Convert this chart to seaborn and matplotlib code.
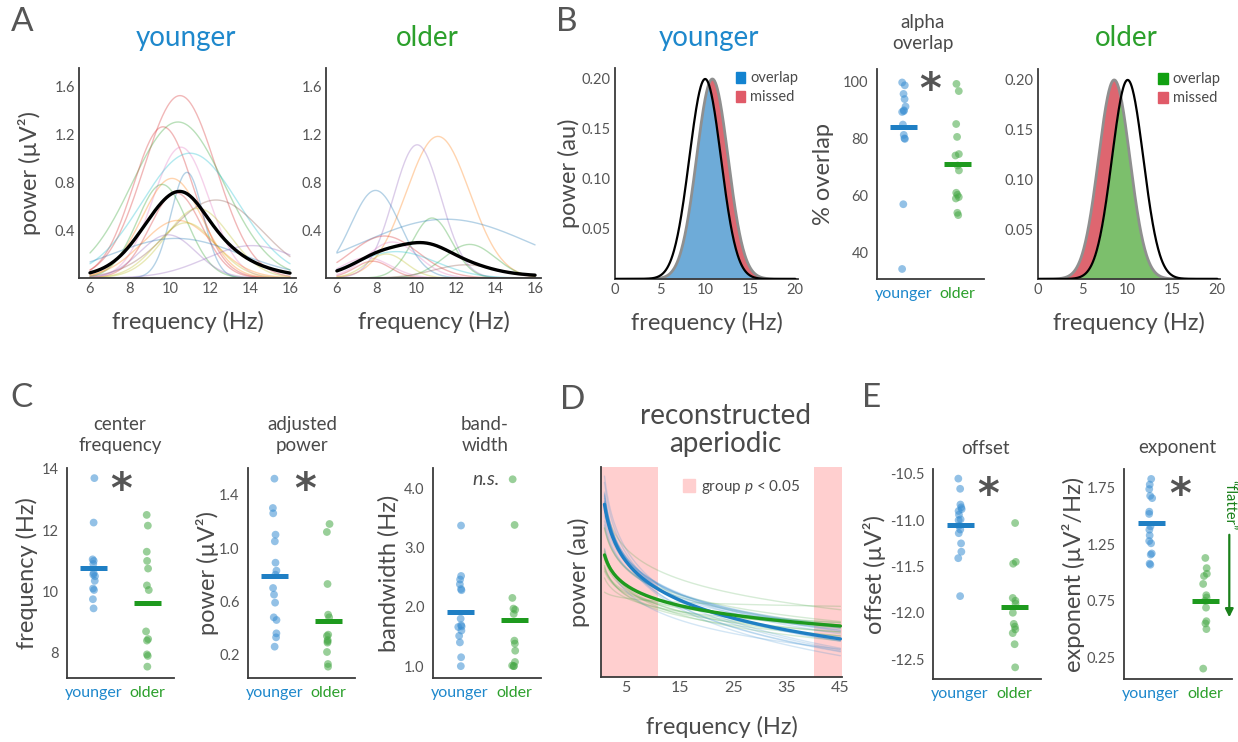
import numpy as np
import pandas as pd
import matplotlib
matplotlib.use("Agg")
import matplotlib.pyplot as plt
import seaborn as sns
from matplotlib.patches import Patch
from matplotlib.ticker import FixedLocator, MultipleLocator

# ---------------------------------------------------------------- data
groups = ["younger", "older"]

# Panel A: alpha peak fits per subject (center Hz, power uV^2, gaussian std Hz)
a_young_cf = [10.5, 10.4, 9.65, 10.55, 11.0, 10.85, 10.1, 9.6, 10.3, 12.3, 11.4, 10.4, 10.8, 9.9, 10.3, 14.1]
a_young_pw = [1.52, 1.30, 1.26, 1.09, 1.04, 0.88, 0.83, 0.78, 0.71, 0.65, 0.58, 0.48, 0.46, 0.36, 0.33, 0.27]
a_young_sd = [1.8, 2.3, 1.5, 1.4, 2.4, 0.8, 1.5, 1.25, 1.3, 2.3, 1.6, 1.8, 1.5, 1.4, 3.2, 2.3]
a_old_cf = [11.1, 10.05, 7.95, 10.8, 11.5, 8.4, 12.7, 7.8, 8.8, 9.0, 12.5, 7.5, 8.5]
a_old_pw = [1.18, 1.11, 0.73, 0.50, 0.49, 0.35, 0.28, 0.14, 0.30, 0.22, 0.11, 0.17, 0.20]
a_old_sd = [1.6, 1.2, 1.25, 1.0, 4.2, 1.7, 1.3, 0.9, 1.3, 2.0, 1.6, 1.2, 1.0]
a_freq_range = (6, 16)

# Panel B: canonical vs group-average alpha distributions
b_canon_cf = 10.0
b_young_cf = 10.8
b_old_cf = 8.5
b_sd = 1.75
b_peak = 0.2
b_freq_range = (0, 20)
overlap_young = [99.5, 98.5, 95.5, 93.7, 91.1, 89.8, 89.5, 89.2, 84.8, 81.2, 80.0, 79.8, 57.0, 34.4]
overlap_old = [99.0, 96.5, 85.0, 80.5, 74.5, 74.0, 70.5, 68.8, 61.0, 60.3, 59.5, 59.0, 54.0, 53.2]
overlap_means = [83.9, 71.0]

# Panel C
cf_young = [13.7, 12.25, 11.05, 11.0, 10.9, 10.6, 10.55, 10.5, 10.35, 10.1, 10.05, 9.75, 9.45]
cf_old = [12.5, 12.15, 11.3, 11.0, 10.75, 10.2, 10.05, 8.7, 8.45, 8.4, 7.95, 7.9, 7.55]
cf_means = [10.76, 9.64]
pw_young = [1.52, 1.30, 1.26, 1.10, 1.05, 0.89, 0.83, 0.80, 0.70, 0.65, 0.59, 0.48, 0.46, 0.36, 0.33, 0.26]
pw_old = [1.18, 1.12, 0.73, 0.50, 0.48, 0.35, 0.34, 0.31, 0.30, 0.29, 0.22, 0.13, 0.11]
pw_means = [0.79, 0.455]
bw_young = [3.37, 2.52, 2.46, 2.38, 2.30, 2.28, 1.80, 1.69, 1.67, 1.66, 1.60, 1.51, 1.40, 1.15, 1.00]
bw_old = [4.15, 3.38, 2.15, 1.97, 1.95, 1.88, 1.43, 1.38, 1.26, 1.07, 1.01, 1.00, 1.00]
bw_means = [1.92, 1.77]

# Panel E (also used for the reconstructed aperiodic fits of panel D)
off_young = [-10.55, -10.66, -10.83, -10.86, -10.88, -10.90, -10.94, -10.99, -11.00,
             -11.06, -11.10, -11.14, -11.25, -11.34, -11.41, -11.82]
off_old = [-11.03, -11.45, -11.47, -11.84, -11.87, -11.90, -12.00, -12.12, -12.15,
           -12.18, -12.22, -12.34, -12.59]
off_means = [-11.05, -11.94]
exp_young = [1.83, 1.78, 1.74, 1.68, 1.66, 1.54, 1.52, 1.41, 1.38, 1.33, 1.28, 1.26,
             1.17, 1.16, 1.08, 1.07]
exp_old = [1.13, 1.04, 0.99, 0.97, 0.90, 0.80, 0.78, 0.75, 0.69, 0.57, 0.55, 0.50, 0.15]
exp_means = [1.44, 0.745]

# Panel D
d_freq_range = (1, 45)
sig_bands = [(0, 11), (40, 46)]

# ---------------------------------------------------------------- style
sns.set_theme(style="white")
plt.rcParams["font.family"] = ["Lato", "DejaVu Sans"]
plt.rcParams["mathtext.fontset"] = "custom"
plt.rcParams["mathtext.rm"] = "Lato"
plt.rcParams["mathtext.it"] = "Lato:italic"
plt.rcParams["axes.unicode_minus"] = False

TXT = "#4a4a4a"
TICK = "#555555"
SPINE = "#3a3a3a"
BLUE_T = "#1e88cc"
GREEN_T = "#2ca02c"
PT_BLUE = "#3a8fd2"
PT_GREEN = "#46a846"
BAR_BLUE = "#1f7fc4"
BAR_GREEN = "#1e9a1e"
FILL_BLUE = "#6eabd8"
FILL_GREEN = "#7cbf6c"
FILL_RED = "#de6670"
PINK = "#ffcfcf"
ARROW_GREEN = "#1a801a"

# per-subject line colours for panel A
young_line_cols = ["#d62728", "#2ca02c", "#d62728", "#e377c2", "#17becf", "#1f77b4",
                   "#ff7f0e", "#2ca02c", "#d62728", "#8c564b", "#bcbd22", "#ff7f0e",
                   "#bcbd22", "#9467bd", "#1f77b4", "#9467bd"]
old_line_cols = ["#ff7f0e", "#9467bd", "#1f77b4", "#2ca02c", "#1f77b4", "#d62728",
                 "#2ca02c", "#d62728", "#e377c2", "#17becf", "#8c564b", "#e377c2",
                 "#bcbd22"]

W, H = 1238, 742
fig = plt.figure(figsize=(W / 100, H / 100), dpi=100)
fig.patch.set_facecolor("white")


def add_ax(x0, y0, x1, y1):
    return fig.add_axes([x0 / W, 1 - y1 / H, (x1 - x0) / W, (y1 - y0) / H])


def ftext(x, y, s, **kw):
    kw.setdefault("color", TXT)
    fig.text(x / W, 1 - y / H, s, **kw)


def star(x, y):
    ftext(x, y + 23, "*", fontsize=30, ha="center", va="baseline",
          family="DejaVu Sans", fontweight="bold", color="#555555")


def style_axes(ax, direction="in"):
    for s in ["top", "right"]:
        ax.spines[s].set_visible(False)
    for s in ["left", "bottom"]:
        ax.spines[s].set_color(SPINE)
        ax.spines[s].set_linewidth(1.3)
    ax.tick_params(which="both", direction=direction, color=SPINE, width=0.9,
                   labelcolor=TICK, labelsize=10.5, pad=3)
    ax.tick_params(which="major", length=3)
    ax.tick_params(which="minor", length=2.5)
    ax.set_facecolor("white")


def set_ylab(ax, text, xa, size=17):
    ax.set_ylabel(text, fontsize=size, color=TXT, va="center")
    ax.yaxis.set_label_coords(xa, 0.5)


def set_xlab(ax, text, ya, size=17):
    ax.set_xlabel(text, fontsize=size, color=TXT, va="center")
    ax.xaxis.set_label_coords(0.5, ya)


def gauss_df(cfs, pws, sds, lo, hi):
    f = np.linspace(lo, hi, 241)
    rows = []
    for i, (c, p, s) in enumerate(zip(cfs, pws, sds)):
        rows.append(pd.DataFrame({"subject": i, "freq": f,
                                  "power": p * np.exp(-(f - c) ** 2 / (2 * s ** 2))}))
    return pd.concat(rows, ignore_index=True)


# ---------------------------------------------------------------- panel A
def panel_a(ax, cfs, pws, sds, cols):
    df = gauss_df(cfs, pws, sds, *a_freq_range)
    sns.lineplot(data=df, x="freq", y="power", hue="subject", palette=cols,
                 alpha=0.33, lw=1.0, legend=False, ax=ax)
    sns.lineplot(data=df, x="freq", y="power", estimator="mean", errorbar=None,
                 color="black", lw=2.4, ax=ax)
    ax.set_xlim(5.45, 16.3)
    ax.set_ylim(0, 1.75)
    ax.xaxis.set_major_locator(FixedLocator([6, 8, 10, 12, 14, 16]))
    ax.yaxis.set_major_locator(FixedLocator([0.4, 0.8, 1.2, 1.6]))
    ax.yaxis.set_minor_locator(FixedLocator([0.2, 0.6, 1.0, 1.4]))
    ax.set_yticklabels(["0.4", "0.8", "1.2", "1.6"])
    style_axes(ax)
    set_xlab(ax, "frequency (Hz)", -0.21)


axA1 = add_ax(79, 68, 296, 278)
panel_a(axA1, a_young_cf, a_young_pw, a_young_sd, young_line_cols)
set_ylab(axA1, "power (µV²)", -0.23)
axA2 = add_ax(326, 68, 541, 278)
panel_a(axA2, a_old_cf, a_old_pw, a_old_sd, old_line_cols)
axA2.set_ylabel("")

ftext(22, 22, "A", fontsize=24, ha="center", va="center", color="#555555")
ftext(186, 38, "younger", fontsize=20, ha="center", va="center", color=BLUE_T)
ftext(427, 38, "older", fontsize=20, ha="center", va="center", color=GREEN_T)


# ---------------------------------------------------------------- panel B curves
def panel_b(ax, grp_cf, fill_col, leg_col):
    f = np.linspace(*b_freq_range, 401)
    canon = b_peak * np.exp(-(f - b_canon_cf) ** 2 / (2 * b_sd ** 2))
    grp = b_peak * np.exp(-(f - grp_cf) ** 2 / (2 * b_sd ** 2))
    low = np.minimum(grp, canon)
    ax.fill_between(f, 0, low, color=fill_col, lw=0, zorder=1)
    ax.fill_between(f, low, grp, where=grp > canon, color=FILL_RED, lw=0,
                    zorder=1, interpolate=True)
    sns.lineplot(x=f, y=grp, color="#8f8f8f", lw=2.0, ax=ax, zorder=2)
    sns.lineplot(x=f, y=canon, color="black", lw=1.6, ax=ax, zorder=3)
    ax.set_xlim(0, 20.3)
    ax.set_ylim(0, 0.211)
    ax.xaxis.set_major_locator(FixedLocator([0, 5, 10, 15, 20]))
    ax.xaxis.set_minor_locator(FixedLocator([2.5, 7.5, 12.5, 17.5]))
    ax.yaxis.set_major_locator(FixedLocator([0.05, 0.10, 0.15, 0.20]))
    ax.yaxis.set_minor_locator(FixedLocator([0.025, 0.075, 0.125, 0.175]))
    ax.set_yticklabels(["0.05", "0.10", "0.15", "0.20"])
    style_axes(ax)
    set_xlab(ax, "frequency (Hz)", -0.21)
    handles = [Patch(color=leg_col, label="overlap"), Patch(color="#e05a68", label="missed")]
    lg = ax.legend(handles=handles, loc="upper left", bbox_to_anchor=(0.66, 0.985),
                   frameon=False, fontsize=10.5, handlelength=0.65, handleheight=0.8,
                   handletextpad=0.35, labelspacing=0.35, borderaxespad=0, borderpad=0)
    for t in lg.get_texts():
        t.set_color(TXT)


axB1 = add_ax(615, 68, 798, 279)
panel_b(axB1, b_young_cf, FILL_BLUE, "#1383d0")
set_ylab(axB1, "power (au)", -0.25)
axB3 = add_ax(1038, 69, 1220, 279)
panel_b(axB3, b_old_cf, FILL_GREEN, "#11a011")
axB3.set_ylabel("")

ftext(567, 22, "B", fontsize=24, ha="center", va="center", color="#555555")
ftext(709, 38, "younger", fontsize=20, ha="center", va="center", color=BLUE_T)
ftext(1126, 38, "older", fontsize=20, ha="center", va="center", color=GREEN_T)


# ---------------------------------------------------------------- strip panels
np.random.seed(7)


def strip_panel(ax, young, old, means, ylim, major, minor, labels):
    df = pd.DataFrame({"group": ["younger"] * len(young) + ["older"] * len(old),
                       "value": list(young) + list(old)})
    sns.stripplot(data=df, x="group", y="value", hue="group", order=groups,
                  hue_order=groups, palette=[PT_BLUE, PT_GREEN], jitter=0.035,
                  size=5.6, alpha=0.55, linewidth=0, legend=False, ax=ax, zorder=3)
    for i, (m, c) in enumerate(zip(means, [BAR_BLUE, BAR_GREEN])):
        ax.hlines(m, i - 0.25, i + 0.25, color=c, lw=3.6, zorder=5)
    ax.set_xlim(-0.5, 1.5)
    ax.set_ylim(*ylim)
    ax.yaxis.set_major_locator(FixedLocator(major))
    ax.yaxis.set_minor_locator(FixedLocator(minor))
    ax.set_yticklabels(labels)
    ax.set_xlabel("")
    style_axes(ax, direction="out")
    ax.tick_params(axis="x", labelsize=11.5, pad=2.5, length=3)
    for lbl, c in zip(ax.get_xticklabels(), [BLUE_T, GREEN_T]):
        lbl.set_color(c)


axB2 = add_ax(877, 69, 984, 279)
strip_panel(axB2, overlap_young, overlap_old, overlap_means, (30.9, 104.2),
            [40, 60, 80, 100], [50, 70, 90], ["40", "60", "80", "100"])
set_ylab(axB2, "% overlap", -0.50)
ftext(923, 33, "alpha\noverlap", fontsize=13.5, ha="center", va="center", linespacing=1.25)
star(930, 80)

# ---------------------------------------------------------------- panel C
axC1 = add_ax(67, 468, 174, 678)
strip_panel(axC1, cf_young, cf_old, cf_means, (7.18, 14.03),
            [8, 10, 12, 14], [9, 11, 13], ["8", "10", "12", "14"])
set_ylab(axC1, "frequency (Hz)", -0.37)
axC2 = add_ax(248, 468, 355, 678)
strip_panel(axC2, pw_young, pw_old, pw_means, (0.025, 1.6),
            [0.2, 0.6, 1.0, 1.4], [0.4, 0.8, 1.2], ["0.2", "0.6", "1.0", "1.4"])
set_ylab(axC2, "power (µV²)", -0.38)
axC3 = add_ax(433, 468, 541, 678)
strip_panel(axC3, bw_young, bw_old, bw_means, (0.8, 4.34),
            [1, 2, 3, 4], [1.5, 2.5, 3.5], ["1.0", "2.0", "3.0", "4.0"])
set_ylab(axC3, "bandwidth (Hz)", -0.41)

ftext(21, 398, "C", fontsize=24, ha="center", va="center", color="#555555")
ftext(120, 435, "center\nfrequency", fontsize=13.5, ha="center", va="center", linespacing=1.25)
ftext(302, 435, "adjusted\npower", fontsize=13.5, ha="center", va="center", linespacing=1.25)
ftext(485, 435, "band-\nwidth", fontsize=13.5, ha="center", va="center", linespacing=1.25)
star(121, 480)
star(305, 480)
ftext(486, 485, "n.s.", fontsize=14, ha="center", va="baseline", style="italic")

# ---------------------------------------------------------------- panel D
axD = add_ax(601, 467, 842, 677)
fD = np.linspace(*d_freq_range, 177)


def aperiodic_df(offs, exps, grp):
    rows = []
    for i, (b, x) in enumerate(zip(offs, exps)):
        rows.append(pd.DataFrame({"subject": f"{grp}{i}", "group": grp, "freq": fD,
                                  "power": b - x * np.log10(fD)}))
    return pd.concat(rows, ignore_index=True)


dfy = aperiodic_df(off_young, exp_young, "younger")
dfo = aperiodic_df(off_old, exp_old, "older")
for lo, hi in sig_bands:
    axD.axvspan(lo, hi, color=PINK, lw=0, zorder=0)
sns.lineplot(data=dfo, x="freq", y="power", units="subject", estimator=None,
             color=PT_GREEN, alpha=0.22, lw=1.0, ax=axD)
sns.lineplot(data=dfy, x="freq", y="power", units="subject", estimator=None,
             color=PT_BLUE, alpha=0.22, lw=1.0, ax=axD)
sns.lineplot(data=dfy, x="freq", y="power", estimator="mean", errorbar=None,
             color=BAR_BLUE, lw=2.4, ax=axD)
sns.lineplot(data=dfo, x="freq", y="power", estimator="mean", errorbar=None,
             color=BAR_GREEN, lw=2.4, ax=axD)
axD.set_xlim(0.35, 45.3)
axD.set_ylim(-14.08, -10.39)
axD.xaxis.set_major_locator(FixedLocator([5, 15, 25, 35, 45]))
axD.xaxis.set_minor_locator(FixedLocator([10, 20, 30, 40]))
axD.yaxis.set_major_locator(MultipleLocator(0.5))
axD.set_yticklabels([])
style_axes(axD)
axD.tick_params(axis="x", labelsize=11.5)
set_xlab(axD, "frequency (Hz)", -0.24)
set_ylab(axD, "power (au)", -0.09)
lg = axD.legend(handles=[Patch(color=PINK, label="group $\\mathit{p}$ < 0.05")],
                loc="center left", bbox_to_anchor=(0.34, 0.905), frameon=False,
                fontsize=11, handlelength=0.8, handleheight=0.9, handletextpad=0.4,
                borderaxespad=0, borderpad=0)
for t in lg.get_texts():
    t.set_color(TXT)

ftext(573, 400, "D", fontsize=24, ha="center", va="center", color="#555555")
ftext(725, 430, "reconstructed\naperiodic", fontsize=20, ha="center", va="center",
      linespacing=1.05)

# ---------------------------------------------------------------- panel E
axE1 = add_ax(933, 469, 1041, 679)
strip_panel(axE1, off_young, off_old, off_means, (-12.716, -10.446),
            [-12.5, -12.0, -11.5, -11.0, -10.5], [],
            ["-12.5", "-12.0", "-11.5", "-11.0", "-10.5"])
set_ylab(axE1, "offset (µV²)", -0.54)
axE2 = add_ax(1124, 469, 1232, 679)
strip_panel(axE2, exp_young, exp_old, exp_means, (0.058, 1.918),
            [0.25, 0.75, 1.25, 1.75], [0.5, 1.0, 1.5], ["0.25", "0.75", "1.25", "1.75"])
set_ylab(axE2, "exponent (µV²/Hz)", -0.47)
axE2.annotate("", xy=(1.45, 0.58), xytext=(1.45, 1.36),
              arrowprops=dict(arrowstyle="-|>", color=ARROW_GREEN, lw=1.6, mutation_scale=12),
              annotation_clip=False)
axE2.text(1.45, 1.60, "\u201cflatter\u201d", rotation=-90, ha="center", va="center",
          color=ARROW_GREEN, fontsize=10.5, clip_on=False)

ftext(872, 398, "E", fontsize=24, ha="center", va="center", color="#555555")
ftext(986, 448, "offset", fontsize=13.5, ha="center", va="center")
ftext(1177, 448, "exponent", fontsize=13.5, ha="center", va="center")
star(988, 485)
star(1180, 485)

fig.savefig("out.png", dpi=100, facecolor="white")
